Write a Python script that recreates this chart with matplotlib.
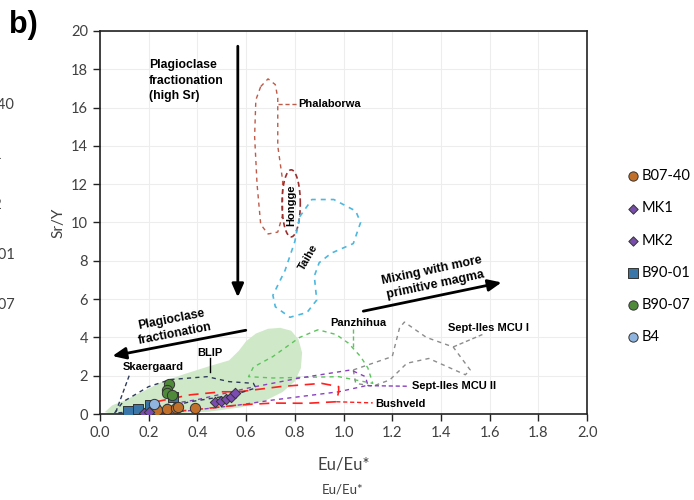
import matplotlib.pyplot as plt
import numpy as np

# sample points (Eu/Eu*, Sr/Y)
b0740_x = [0.233, 0.276, 0.312, 0.322, 0.39]
b0740_y = [0.21, 0.24, 0.30, 0.38, 0.30]
mk1_x = [0.472, 0.495, 0.517, 0.18]
mk1_y = [0.64, 0.70, 0.77, 0.05]
mk2_x = [0.536, 0.554, 0.20]
mk2_y = [0.90, 1.08, 0.08]
b9001_x = [0.116, 0.157, 0.205, 0.30]
b9001_y = [0.16, 0.24, 0.47, 0.90]
b9007_x = [0.283, 0.276, 0.274, 0.294]
b9007_y = [1.55, 1.25, 1.11, 0.99]
b4_x = [0.223]
b4_y = [0.50]

# literature fields (outlines)
phal_x = [0.66, 0.69, 0.72, 0.73, 0.73, 0.75, 0.75, 0.73, 0.69, 0.66, 0.645, 0.635, 0.64, 0.66]
phal_y = [17.1, 17.5, 17.2, 16.5, 14.0, 12.2, 10.4, 9.5, 9.4, 9.9, 12.0, 14.5, 16.4, 17.1]
taihe_x = [0.82, 0.87, 0.96, 1.05, 1.07, 1.04, 0.95, 0.90, 0.88, 0.89, 0.85, 0.78, 0.72, 0.71, 0.76, 0.80, 0.82]
taihe_y = [10.3, 11.2, 11.2, 10.6, 10.0, 8.9, 8.4, 7.9, 7.2, 5.95, 5.3, 5.05, 5.6, 6.2, 7.5, 9.0, 10.3]
panz_x = [0.895, 0.82, 0.71, 0.63, 0.61, 0.71, 0.98, 1.12, 1.10, 1.07, 1.02, 0.97, 0.895]
panz_y = [4.4, 4.0, 3.0, 2.45, 1.95, 1.88, 1.95, 1.6, 2.4, 3.0, 3.7, 4.15, 4.4]
sept1_x = [1.04, 1.20, 1.23, 1.25, 1.34, 1.45, 1.52, 1.50, 1.35, 1.26, 1.19, 1.12, 1.05, 1.04]
sept1_y = [2.3, 3.0, 4.5, 4.8, 4.0, 3.5, 2.3, 2.05, 2.9, 2.65, 1.78, 1.45, 1.6, 2.3]
sept2_x = [0.20, 0.40, 0.61, 0.82, 0.98, 1.03, 1.09, 1.10, 0.98, 0.71, 0.57, 0.35, 0.18, 0.20]
sept2_y = [0.35, 0.75, 1.36, 1.88, 2.2, 2.3, 1.95, 1.5, 1.16, 0.73, 0.47, 0.15, 0.05, 0.35]
bush_x = [0.23, 0.37, 0.50, 0.57, 0.74, 0.91, 0.98, 0.98, 0.97, 0.85, 0.71, 0.57, 0.37, 0.23, 0.20, 0.23]
bush_y = [0.64, 1.0, 1.16, 1.16, 1.43, 1.6, 1.43, 1.16, 0.64, 0.56, 0.57, 0.47, 0.2, 0.05, 0.3, 0.64]
skae_x = [0.06, 0.095, 0.20, 0.29, 0.44, 0.53, 0.63, 0.64, 0.55, 0.37, 0.23, 0.06]
skae_y = [0.05, 0.64, 1.43, 1.8, 1.95, 1.69, 1.6, 1.36, 1.0, 0.64, 0.2, 0.05]
blip_x = [0.02, 0.05, 0.10, 0.18, 0.25, 0.35, 0.45, 0.53, 0.57, 0.60, 0.64, 0.69, 0.74, 0.785, 0.815,
          0.83, 0.825, 0.80, 0.75, 0.68, 0.58, 0.45, 0.30, 0.15, 0.05]
blip_y = [0.10, 0.45, 0.70, 1.2, 1.65, 2.1, 2.5, 2.8, 3.3, 3.8, 4.2, 4.45, 4.5, 4.35, 3.9,
          3.2, 2.4, 1.7, 1.15, 0.7, 0.35, 0.12, 0.03, 0.0, 0.0]
hongge_c = (0.785, 11.0)
hongge_w, hongge_h = 0.075, 3.5

fig = plt.figure(figsize=(6.94, 5.0), dpi=100)
ax = fig.add_axes([0.144, 0.172, 0.702, 0.766])

ax.fill(blip_x, blip_y, color='#cfe9c8', lw=0, zorder=1)
ax.plot(phal_x, phal_y, ls=(0, (3, 3)), c='#bf5a48', lw=1, zorder=2)
t = np.linspace(0, 2 * np.pi, 100)
ax.plot(hongge_c[0] + hongge_w / 2 * np.cos(t), hongge_c[1] + hongge_h / 2 * np.sin(t),
        ls=(0, (3, 2)), c='#9b2d2d', lw=1.2, zorder=2)
ax.plot(taihe_x, taihe_y, ls=(0, (3, 3)), c='#4bb8e0', lw=1.2, zorder=2)
ax.plot(panz_x, panz_y, ls=(0, (3, 3)), c='#5cc45c', lw=1, zorder=2)
ax.plot(sept1_x, sept1_y, ls=(0, (3, 3)), c='#8c8c8c', lw=1, zorder=2)
ax.plot(sept2_x, sept2_y, ls=(0, (3, 3)), c='#8a3fbf', lw=1, zorder=2)
ax.plot(bush_x, bush_y, ls=(0, (6, 4)), c='#ff2020', lw=1.2, zorder=2)
ax.plot(skae_x, skae_y, ls=(0, (3, 3)), c='#2f3b5c', lw=1, zorder=2)

# leader lines
ax.plot([0.73, 0.81], [16.2, 16.2], ls=(0, (3, 2)), c='#bf5a48', lw=1)
ax.plot([1.04, 1.04], [4.45, 3.5], ls=(0, (3, 2)), c='#5cc45c', lw=1)
ax.plot([1.45, 1.57], [3.5, 4.15], ls=(0, (3, 2)), c='#8c8c8c', lw=1)
ax.plot([1.10, 1.26], [1.48, 1.45], ls=(0, (3, 2)), c='#8a3fbf', lw=1)
ax.plot([0.97, 1.12], [0.64, 0.58], ls=(0, (3, 2)), c='#ff2020', lw=1)
ax.plot([0.12, 0.065], [2.0, 0.1], ls=(0, (3, 2)), c='#2f3b5c', lw=1)
ax.plot([0.45, 0.45], [2.9, 2.2], c='k', lw=1)

# arrows
akw = dict(arrowstyle='-|>,head_length=0.8,head_width=0.35', color='k', lw=2)
ax.annotate('', xy=(0.566, 5.95), xytext=(0.566, 19.35), arrowprops=akw)
ax.annotate('', xy=(0.04, 3.0), xytext=(0.61, 4.4), arrowprops=akw)
ax.annotate('', xy=(1.66, 6.9), xytext=(1.07, 5.34), arrowprops=akw)

bold = dict(family='Liberation Sans', weight='bold')
ax.text(0.2, 17.4, 'Plagioclase\nfractionation\n(high Sr)', fontsize=8.8, va='center',
        ha='left', linespacing=1.4, **bold)
ax.text(0.30, 4.55, 'Plagioclase\nfractionation', fontsize=8.8, rotation=11, ha='center',
        va='center', linespacing=1.3, **bold)
ax.text(1.37, 7.1, 'Mixing with more\nprimitive magma', fontsize=9, rotation=12,
        ha='center', va='center', linespacing=1.3, **bold)
ax.text(0.815, 16.2, 'Phalaborwa', fontsize=8, va='center', **bold)
ax.text(0.785, 10.9, 'Hongge', fontsize=8, va='center', ha='center', rotation=90, **bold)
ax.text(0.855, 8.2, 'Taihe', fontsize=8, va='center', ha='center', rotation=60, **bold)
ax.text(1.06, 4.77, 'Panzhihua', fontsize=8, va='center', ha='center', **bold)
ax.text(1.43, 4.5, 'Sept-Iles MCU I', fontsize=8, va='center', ha='left', **bold)
ax.text(1.28, 1.46, 'Sept-Iles MCU II', fontsize=8, va='center', ha='left', **bold)
ax.text(1.13, 0.52, 'Bushveld', fontsize=8, va='center', ha='left', **bold)
ax.text(0.217, 2.47, 'Skaergaard', fontsize=8, va='center', ha='center', **bold)
ax.text(0.45, 3.2, 'BLIP', fontsize=8, va='center', ha='center', **bold)

mk = dict(edgecolors='#333333', linewidths=0.7, zorder=5)
ax.scatter(b9001_x, b9001_y, marker='s', s=55, c='#3a76a8', label='B90-01', **mk)
ax.scatter(b0740_x, b0740_y, marker='o', s=55, c='#c0702a', label='B07-40', **mk)
ax.scatter(mk1_x, mk1_y, marker='D', s=28, c='#7a4bb0', label='MK1', **mk)
ax.scatter(mk2_x, mk2_y, marker='D', s=28, c='#7a4bb0', label='MK2', **mk)
ax.scatter(b9007_x, b9007_y, marker='o', s=55, c='#4f8a3a', label='B90-07', **mk)
ax.scatter(b4_x, b4_y, marker='o', s=55, c='#8fb4e0', label='B4', **mk)

h, l = ax.get_legend_handles_labels()
order = ['B07-40', 'MK1', 'MK2', 'B90-01', 'B90-07', 'B4']
hh = [h[l.index(o)] for o in order]
fig.legend(hh, order, loc='upper left', bbox_to_anchor=(0.88, 0.688), frameon=False,
           prop={'family': 'Lato', 'size': 10.5}, handletextpad=0.05, labelspacing=1.25,
           handlelength=1.2, markerscale=0.9)

ax.set_xlim(0, 2.0)
ax.set_ylim(0, 20)
ax.set_xticks(np.arange(0, 2.01, 0.2))
ax.set_yticks(np.arange(0, 21, 2))
ax.set_xticklabels([f'{v:.1f}' for v in np.arange(0, 2.01, 0.2)])
ax.grid(True, color='#ededed', lw=0.8)
ax.set_axisbelow(True)
for s in ax.spines.values():
    s.set_color('#222222')
    s.set_linewidth(1.2)
ax.tick_params(direction='out', length=5, width=1, colors='#222222', labelcolor='#404040')
for lab in ax.get_xticklabels() + ax.get_yticklabels():
    lab.set_family('Lato')
    lab.set_fontsize(10.5)
ax.set_ylabel('Sr/Y', family='Lato', fontsize=11, color='#404040', labelpad=4)
ax.set_xlabel('Eu/Eu*', family='Lato', fontsize=12, color='#404040', labelpad=12)
fig.text(0.494, 0.02, 'Eu/Eu*', family='Lato', fontsize=9.5, color='#404040',
         ha='center', va='center')
fig.text(0.013, 0.934, 'b)', fontsize=22, weight='bold', family='Liberation Sans')

# cut-off legend of a neighbouring panel at the left edge
rem_labels = ['B07-40', 'MK1', 'MK2', 'B90-01', 'B90-07']
rem_y = [105, 155, 205, 255, 305]
rem_x = [0.0216, 0.004, 0.004, 0.0216, 0.0216]
for xx, yy, tt in zip(rem_x, rem_y, rem_labels):
    fig.text(xx, 1 - yy / 500, tt, family='Lato', fontsize=10.5, color='#404040',
             va='center', ha='right')

fig.savefig('out.png', dpi=100)
